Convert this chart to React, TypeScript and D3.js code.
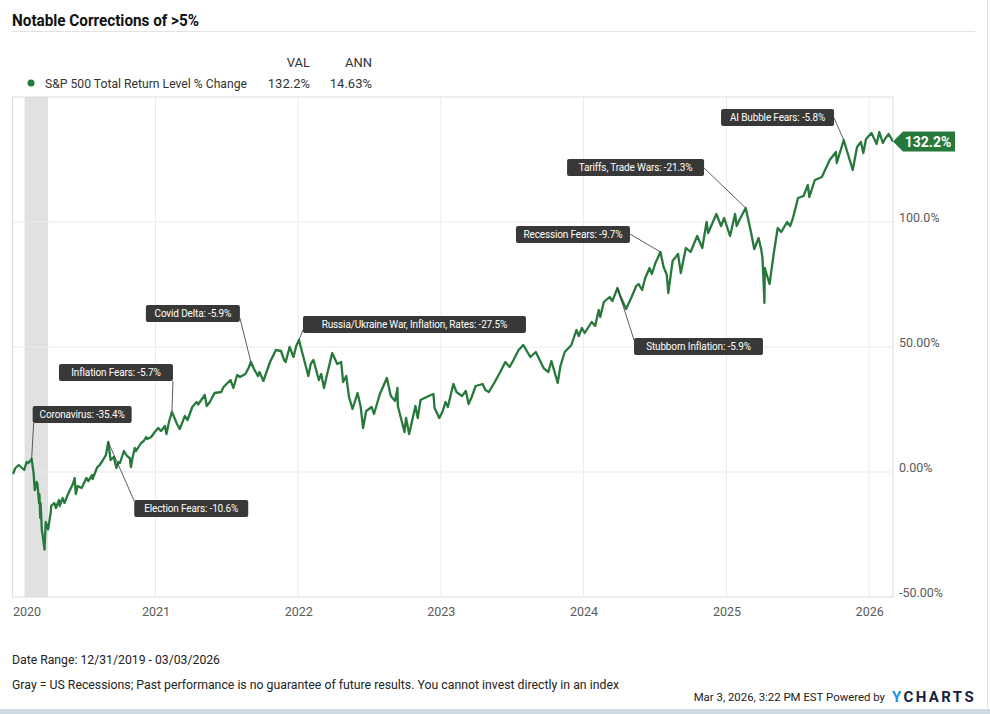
import { useRef, useEffect } from "react";
import * as d3 from "d3";

// S&P 500 total return, % change since 12/31/2019, one pair of arrays per year
const dates2020 = [
  "2019-12-31", "2020-01-03", "2020-01-08", "2020-01-17", "2020-01-24", "2020-01-31", "2020-02-06", "2020-02-10",
  "2020-02-19", "2020-02-24", "2020-02-27", "2020-03-03", "2020-03-05", "2020-03-09", "2020-03-10", "2020-03-12",
  "2020-03-13", "2020-03-16", "2020-03-18", "2020-03-23", "2020-03-26", "2020-04-01", "2020-04-08", "2020-04-09",
  "2020-04-17", "2020-04-21", "2020-04-29", "2020-05-01", "2020-05-08", "2020-05-13", "2020-05-19", "2020-05-27",
  "2020-06-03", "2020-06-08", "2020-06-11", "2020-06-16", "2020-06-26", "2020-07-02", "2020-07-08", "2020-07-13",
  "2020-07-23", "2020-07-24", "2020-08-05", "2020-08-11", "2020-08-18", "2020-08-27", "2020-09-02", "2020-09-08",
  "2020-09-16", "2020-09-23", "2020-09-28", "2020-10-02", "2020-10-12", "2020-10-20", "2020-10-27", "2020-10-30",
  "2020-11-03", "2020-11-09", "2020-11-12", "2020-11-25", "2020-12-02", "2020-12-08", "2020-12-11", "2020-12-21",
  "2020-12-30",
];
const values2020 = [
  0, -0.5, 1.5, 2.8, 1.8, 0.8, 4, 3.5,
  5.2, -0.5, -7.2, -4, -5, -12.5, -9, -18.4,
  -12.5, -23.2, -25, -31, -20, -23, -16, -13.5,
  -12.4, -14.4, -11.2, -13.6, -10.4, -12.4, -10, -7.2,
  -5, -2.4, -8.8, -5.6, -6.4, -4.4, -2.4, -3.6,
  -1.2, -2.8, 2, 2.8, 4.4, 6.8, 12, 4.8,
  6, 1.6, 4, 3.6, 8.4, 6.4, 5.6, 2,
  5.6, 9.6, 8.4, 11.6, 12.4, 14, 13.2, 14,
  16,
];
const dates2021 = [
  "2021-01-08", "2021-01-15", "2021-01-25", "2021-01-29", "2021-02-05", "2021-02-12", "2021-02-25", "2021-03-04",
  "2021-03-17", "2021-03-24", "2021-04-05", "2021-04-16", "2021-04-20", "2021-05-07", "2021-05-12", "2021-05-20",
  "2021-06-01", "2021-06-18", "2021-06-24", "2021-07-12", "2021-07-19", "2021-07-29", "2021-08-05", "2021-08-19",
  "2021-08-27", "2021-09-02", "2021-09-10", "2021-09-20", "2021-09-24", "2021-10-04", "2021-10-21", "2021-11-05",
  "2021-11-18", "2021-11-26", "2021-11-30", "2021-12-10", "2021-12-20", "2021-12-27",
];
const values2021 = [
  17.6, 16.4, 18.4, 15.2, 20.4, 24, 19.2, 17.2,
  22.4, 20.8, 26, 28, 27, 30.8, 26.4, 28,
  31.6, 32, 34, 36.8, 33.6, 38.8, 38, 39.2,
  41.6, 44, 41.2, 38.4, 40, 36.4, 44, 48.8,
  48.4, 44.8, 44, 50, 46, 50.4,
];
const dates2022 = [
  "2022-01-03", "2022-01-13", "2022-01-19", "2022-01-27", "2022-02-02", "2022-02-09", "2022-02-23", "2022-03-01",
  "2022-03-08", "2022-03-15", "2022-03-29", "2022-04-11", "2022-04-21", "2022-04-26", "2022-05-04", "2022-05-11",
  "2022-05-20", "2022-06-02", "2022-06-10", "2022-06-16", "2022-06-24", "2022-07-08", "2022-07-14", "2022-07-29",
  "2022-08-16", "2022-08-26", "2022-09-06", "2022-09-12", "2022-09-13", "2022-09-30", "2022-10-04", "2022-10-12",
  "2022-10-28", "2022-11-03", "2022-11-10", "2022-12-01", "2022-12-13", "2022-12-16", "2022-12-28",
];
const values2022 = [
  52.8, 46.8, 43.2, 38.4, 43.2, 44.8, 36.8, 39.2,
  33.6, 38.4, 47.6, 43.2, 44, 36, 38.4, 30,
  25.2, 31.6, 26, 17.6, 24.4, 26, 23.2, 31.2,
  37.6, 30.4, 28.4, 33.6, 26.4, 16, 21.6, 15.2,
  26.4, 21.6, 28.8, 30.4, 31.2, 25.6, 21.6,
];
const dates2023 = [
  "2023-01-05", "2023-01-13", "2023-01-19", "2023-02-02", "2023-02-10", "2023-02-24", "2023-03-06", "2023-03-13",
  "2023-03-21", "2023-03-31", "2023-04-18", "2023-04-25", "2023-05-04", "2023-05-19", "2023-06-02", "2023-06-15",
  "2023-06-26", "2023-07-06", "2023-07-19", "2023-07-31", "2023-08-18", "2023-09-01", "2023-09-21", "2023-10-03",
  "2023-10-11", "2023-10-27", "2023-11-03", "2023-11-14", "2023-12-01", "2023-12-14", "2023-12-20", "2023-12-28",
];
const values2023 = [
  24, 28, 26, 35.2, 32, 30.4, 32.4, 27.2,
  30, 34.4, 35.2, 32.8, 32, 36, 40, 44,
  42, 44.8, 48.8, 50.8, 46, 48, 41.6, 40,
  44.4, 35.6, 42.4, 48, 50.8, 56.8, 54.4, 57.6,
];
const dates2024 = [
  "2024-01-04", "2024-01-22", "2024-01-31", "2024-02-09", "2024-02-13", "2024-02-22", "2024-03-08", "2024-03-15",
  "2024-03-28", "2024-04-04", "2024-04-19", "2024-05-02", "2024-05-15", "2024-05-21", "2024-05-30", "2024-06-07",
  "2024-06-18", "2024-06-24", "2024-07-03", "2024-07-16", "2024-07-24", "2024-08-01", "2024-08-05", "2024-08-16",
  "2024-08-30", "2024-09-06", "2024-09-19", "2024-10-01", "2024-10-18", "2024-10-31", "2024-11-11", "2024-11-15",
  "2024-12-06", "2024-12-18", "2024-12-26",
];
const values2024 = [
  55.6, 60, 58.4, 64.8, 62, 68, 70, 68.4,
  73.6, 70.4, 65.2, 69.6, 74.4, 75.2, 72.8, 77.6,
  81.6, 79.2, 83.6, 88, 82, 79, 71.6, 84.4,
  87.2, 79.6, 89.6, 88, 94.4, 89.6, 100, 95.6,
  103.2, 98.4, 101.6,
];
const dates2025 = [
  "2025-01-10", "2025-01-23", "2025-01-27", "2025-02-03", "2025-02-19", "2025-03-04", "2025-03-13", "2025-03-24",
  "2025-03-31", "2025-04-03", "2025-04-04", "2025-04-08", "2025-04-09", "2025-04-21", "2025-05-02", "2025-05-12",
  "2025-05-21", "2025-06-05", "2025-06-13", "2025-06-20", "2025-07-03", "2025-07-17", "2025-07-28", "2025-08-01",
  "2025-08-15", "2025-09-02", "2025-09-22", "2025-10-08", "2025-10-10", "2025-10-28", "2025-11-06", "2025-11-20",
  "2025-12-01", "2025-12-11", "2025-12-17", "2025-12-24",
];
const values2025 = [
  94.4, 103.2, 98.4, 100.8, 105.6, 96.4, 89.2, 93.6,
  88.8, 85.6, 82.4, 67.6, 81.6, 75.2, 87.6, 97.6,
  96, 100, 98.4, 101.6, 109.6, 110.4, 114.8, 110,
  116.8, 118, 124.8, 128, 123.6, 132.8, 128, 120.8,
  130, 132, 127.6, 133.2,
];
const dates2026 = ["2026-01-07", "2026-01-20", "2026-01-27", "2026-02-05", "2026-02-12", "2026-02-20", "2026-03-03"];
const values2026 = [135.6, 131.2, 136, 131.6, 133.6, 135.2, 132.2];

const dates = [...dates2020, ...dates2021, ...dates2022, ...dates2023, ...dates2024, ...dates2025, ...dates2026];
const values = [...values2020, ...values2021, ...values2022, ...values2023, ...values2024, ...values2025, ...values2026];

const yTicks = [-50, 0, 50, 100];
const yTickLabels = ["-50.00%", "0.00%", "50.00%", "100.0%"];
const yearTicks = ["2020-01-01", "2021-01-01", "2022-01-01", "2023-01-01", "2024-01-01", "2025-01-01", "2026-01-01"];
const yearLabels = ["2020", "2021", "2022", "2023", "2024", "2025", "2026"];
const recession = ["2020-02-01", "2020-04-01"];

const noteDates = ["2020-02-19", "2020-09-02", "2021-02-12", "2021-09-02", "2022-01-03", "2024-03-28", "2024-07-16", "2025-02-19", "2025-10-28"];
const noteLabels = [
  "Coronavirus: -35.4%",
  "Election Fears: -10.6%",
  "Inflation Fears: -5.7%",
  "Covid Delta: -5.9%",
  "Russia/Ukraine War, Inflation, Rates: -27.5%",
  "Stubborn Inflation: -5.9%",
  "Recession Fears: -9.7%",
  "Tariffs, Trade Wars: -21.3%",
  "AI Bubble Fears: -5.8%",
];
// box placement relative to the anchor point, and where the leader meets the box
const noteBoxes = [
  { dx: 1, dy: -53, w: 99, lx: 1, ly: 17 },
  { dx: 26, dy: 58, w: 114, lx: 0, ly: 1 },
  { dx: -113, dy: -48, w: 114, lx: 114, ly: 17 },
  { dx: -105, dy: -57, w: 94, lx: 94, ly: 13 },
  { dx: 4, dy: -24, w: 223, lx: 0, ly: 14 },
  { dx: 16.5, dy: 50, w: 129, lx: 0, ly: 2 },
  { dx: -144.5, dy: -26, w: 114, lx: 114, ly: 8 },
  { dx: -178.6, dy: -49, w: 137, lx: 137, ly: 9 },
  { dx: -122.7, dy: -31, w: 113, lx: 113, ly: 9 },
];

const seriesName = "S&P 500 Total Return Level % Change";
const valText = "132.2%";
const annText = "14.63%";

const W = 990, H = 714;
const left = 12.5, right = 893, top = 97, bottom = 597;
const green = "#26793a";
const font = "Roboto, 'Noto Sans', sans-serif";
const parse = d3.utcParse("%Y-%m-%d");

export default function App() {
  const xAxisRef = useRef(null);
  const yAxisRef = useRef(null);

  const x = d3.scaleUtc().domain([parse("2020-01-01"), parse("2026-03-03")]).range([left, right]);
  const y = d3.scaleLinear().domain([-50, 150]).range([bottom, top]);
  const line = d3.line().x((d) => x(parse(d[0]))).y((d) => y(d[1]));
  const series = dates.map((d, i) => [d, values[i]]);
  const lastY = y(values[values.length - 1]);

  useEffect(() => {
    const xAxis = d3.axisBottom(x)
      .tickValues(yearTicks.map(parse))
      .tickFormat((d, i) => yearLabels[i])
      .tickSize(0)
      .tickPadding(10);
    const gx = d3.select(xAxisRef.current).call(xAxis);
    gx.select(".domain").remove();
    gx.selectAll("text").attr("font-size", 12.5).attr("font-family", font).attr("fill", "#5a5a5a");
    gx.selectAll("text").filter((d, i) => i === 0).attr("text-anchor", "start");

    const yAxis = d3.axisRight(y)
      .tickValues(yTicks)
      .tickFormat((d, i) => yTickLabels[i])
      .tickSize(0)
      .tickPadding(6);
    const gy = d3.select(yAxisRef.current).call(yAxis);
    gy.select(".domain").remove();
    gy.selectAll("text").attr("y", -5).attr("font-size", 12.5).attr("font-family", font).attr("fill", "#5a5a5a");
  }, []);

  return (
    <svg width={W} height={H} style={{ position: "absolute", left: 0, top: 0, background: "#fff" }} fontFamily={font}>
      <defs>
        <clipPath id="plot">
          <rect x={left} y={top} width={right - left} height={bottom - top} />
        </clipPath>
      </defs>

      {/* header */}
      <text x={12} y={26} fontSize={17} fontWeight="bold" fill="#111" textLength={187} lengthAdjust="spacingAndGlyphs">Notable Corrections of &gt;5%</text>
      <line x1={12} x2={975} y1={31.5} y2={31.5} stroke="#e3e3e3" />
      <line x1={987.5} x2={987.5} y1={0} y2={708} stroke="#e3e3e3" />

      {/* legend */}
      <text x={310} y={67} fontSize={13} fill="#333" textAnchor="end">VAL</text>
      <text x={372} y={67} fontSize={13} fill="#333" textAnchor="end">ANN</text>
      <circle cx={31} cy={83} r={3.5} fill={green} />
      <text x={45} y={88} fontSize={13} fill="#333" textLength={202} lengthAdjust="spacingAndGlyphs">{seriesName}</text>
      <text x={310} y={88} fontSize={13} fill="#333" textAnchor="end">{valText}</text>
      <text x={372} y={88} fontSize={13} fill="#333" textAnchor="end">{annText}</text>

      {/* plot area */}
      <rect x={x(parse(recession[0]))} y={top} width={x(parse(recession[1])) - x(parse(recession[0]))} height={bottom - top} fill="#e1e1e1" />
      {yearTicks.slice(1).map((t) => (
        <line key={t} x1={x(parse(t))} x2={x(parse(t))} y1={top} y2={bottom} stroke="#ebebeb" />
      ))}
      {yTicks.slice(1).map((t) => (
        <line key={t} x1={left} x2={right} y1={y(t)} y2={y(t)} stroke="#ebebeb" />
      ))}
      <rect x={left} y={top} width={right - left} height={bottom - top} fill="none" stroke="#dcdcdc" />

      <path d={line(series)} fill="none" stroke={green} strokeWidth={2.3} strokeLinejoin="round" clipPath="url(#plot)" />

      <g ref={xAxisRef} transform={`translate(0,${bottom})`} />
      <g ref={yAxisRef} transform={`translate(${right},0)`} />

      {/* annotations */}
      {noteDates.map((d, i) => {
        const ax = x(parse(d));
        const ay = y(values[dates.indexOf(d)]);
        const b = noteBoxes[i];
        const bx = ax + b.dx, by = ay + b.dy;
        return (
          <g key={d}>
            <line x1={ax} y1={ay} x2={bx + b.lx} y2={by + b.ly} stroke="#333" strokeWidth={0.8} />
            <rect x={bx} y={by} width={b.w} height={17} rx={2} fill="#383838" />
            <text x={bx + b.w / 2} y={by + 12} fontSize={10} fill="#fff" textAnchor="middle" letterSpacing={-0.15}>{noteLabels[i]}</text>
          </g>
        );
      })}

      {/* last value flag */}
      <path d={`M${right},${lastY} L${right + 10},${lastY - 10} H${right + 62} V${lastY + 10} H${right + 10} Z`} fill={green} />
      <text x={right + 35} y={lastY + 5} fontSize={14} fontWeight="bold" fill="#fff" textAnchor="middle">{valText}</text>

      {/* footer */}
      <text x={12} y={664} fontSize={12.5} fill="#222" textLength={208} lengthAdjust="spacingAndGlyphs">Date Range: 12/31/2019 - 03/03/2026</text>
      <text x={12} y={689} fontSize={12.5} fill="#222" textLength={607} lengthAdjust="spacingAndGlyphs">Gray = US Recessions; Past performance is no guarantee of future results. You cannot invest directly in an index</text>
      <text x={885} y={701} fontSize={11.4} fill="#222" textAnchor="end">Mar 3, 2026, 3:22 PM EST Powered by</text>
      <text x={892} y={702} fontSize={15} fontWeight="bold" letterSpacing={2.4}>
        <tspan fill="#1d8fe1">Y</tspan>
        <tspan fill="#14233f">CHARTS</tspan>
      </text>
      <rect x={0} y={709} width={W} height={5} fill="#cfd9e4" />
    </svg>
  );
}
